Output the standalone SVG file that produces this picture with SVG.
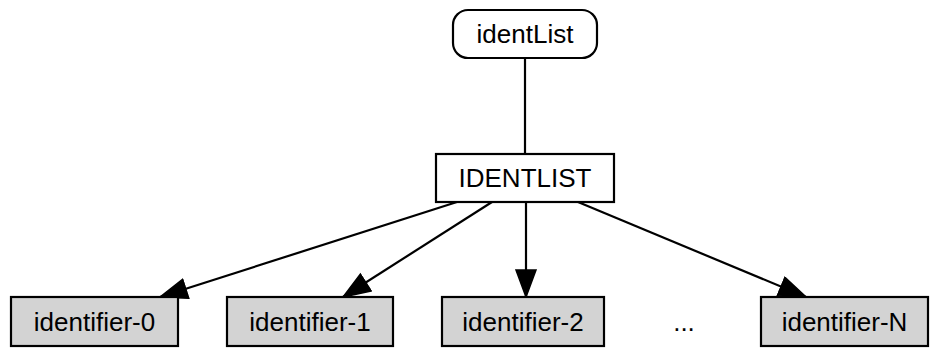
<svg xmlns="http://www.w3.org/2000/svg" width="936" height="349" viewBox="0 0 936 349">
<style>
.box{fill:#fff;stroke:#000;stroke-width:2.2}
.leaf{fill:#d3d3d3;stroke:#000;stroke-width:2.2}
.t{font-family:"Liberation Sans",Arial,sans-serif;font-size:26px;text-anchor:middle;fill:#000}
.e{stroke:#000;stroke-width:2.2;fill:none}
</style>
<defs>
<marker id="ah" markerUnits="userSpaceOnUse" markerWidth="30" markerHeight="24" refX="28" refY="11" orient="auto" viewBox="0 0 30 24">
<path d="M1,1 L28,11 L1,21 Z" fill="#000" stroke="#000" stroke-width="1.5" stroke-linejoin="miter"/>
</marker>
</defs>
<g id="connectors">
<line class="e" x1="525" y1="58" x2="525" y2="154"/>
<line class="e" x1="457" y1="202" x2="160" y2="297" marker-end="url(#ah)"/>
<line class="e" x1="492" y1="202" x2="343" y2="297" marker-end="url(#ah)"/>
<line class="e" x1="526" y1="202" x2="526" y2="297" marker-end="url(#ah)"/>
<line class="e" x1="578" y1="202" x2="806" y2="297" marker-end="url(#ah)"/>
</g>
<g id="identList">
<rect class="box" x="453" y="10" width="144" height="48" rx="15" ry="15"/>
<text class="t" x="525" y="43">identList</text>
</g>
<g id="IDENTLIST">
<rect class="box" x="436" y="154" width="178" height="48"/>
<text class="t" x="525" y="187">IDENTLIST</text>
</g>
<g id="identifier-0">
<rect class="leaf" x="11" y="297" width="167" height="49"/>
<text class="t" x="94.5" y="331">identifier-0</text>
</g>
<g id="identifier-1">
<rect class="leaf" x="227" y="297" width="166" height="49"/>
<text class="t" x="310" y="331">identifier-1</text>
</g>
<g id="identifier-2">
<rect class="leaf" x="442" y="297" width="162" height="49"/>
<text class="t" x="523" y="331">identifier-2</text>
</g>
<g id="ellipsis">
<text class="t" x="684" y="331">...</text>
</g>
<g id="identifier-N">
<rect class="leaf" x="761" y="297" width="167" height="49"/>
<text class="t" x="844.5" y="331">identifier-N</text>
</g>
</svg>
